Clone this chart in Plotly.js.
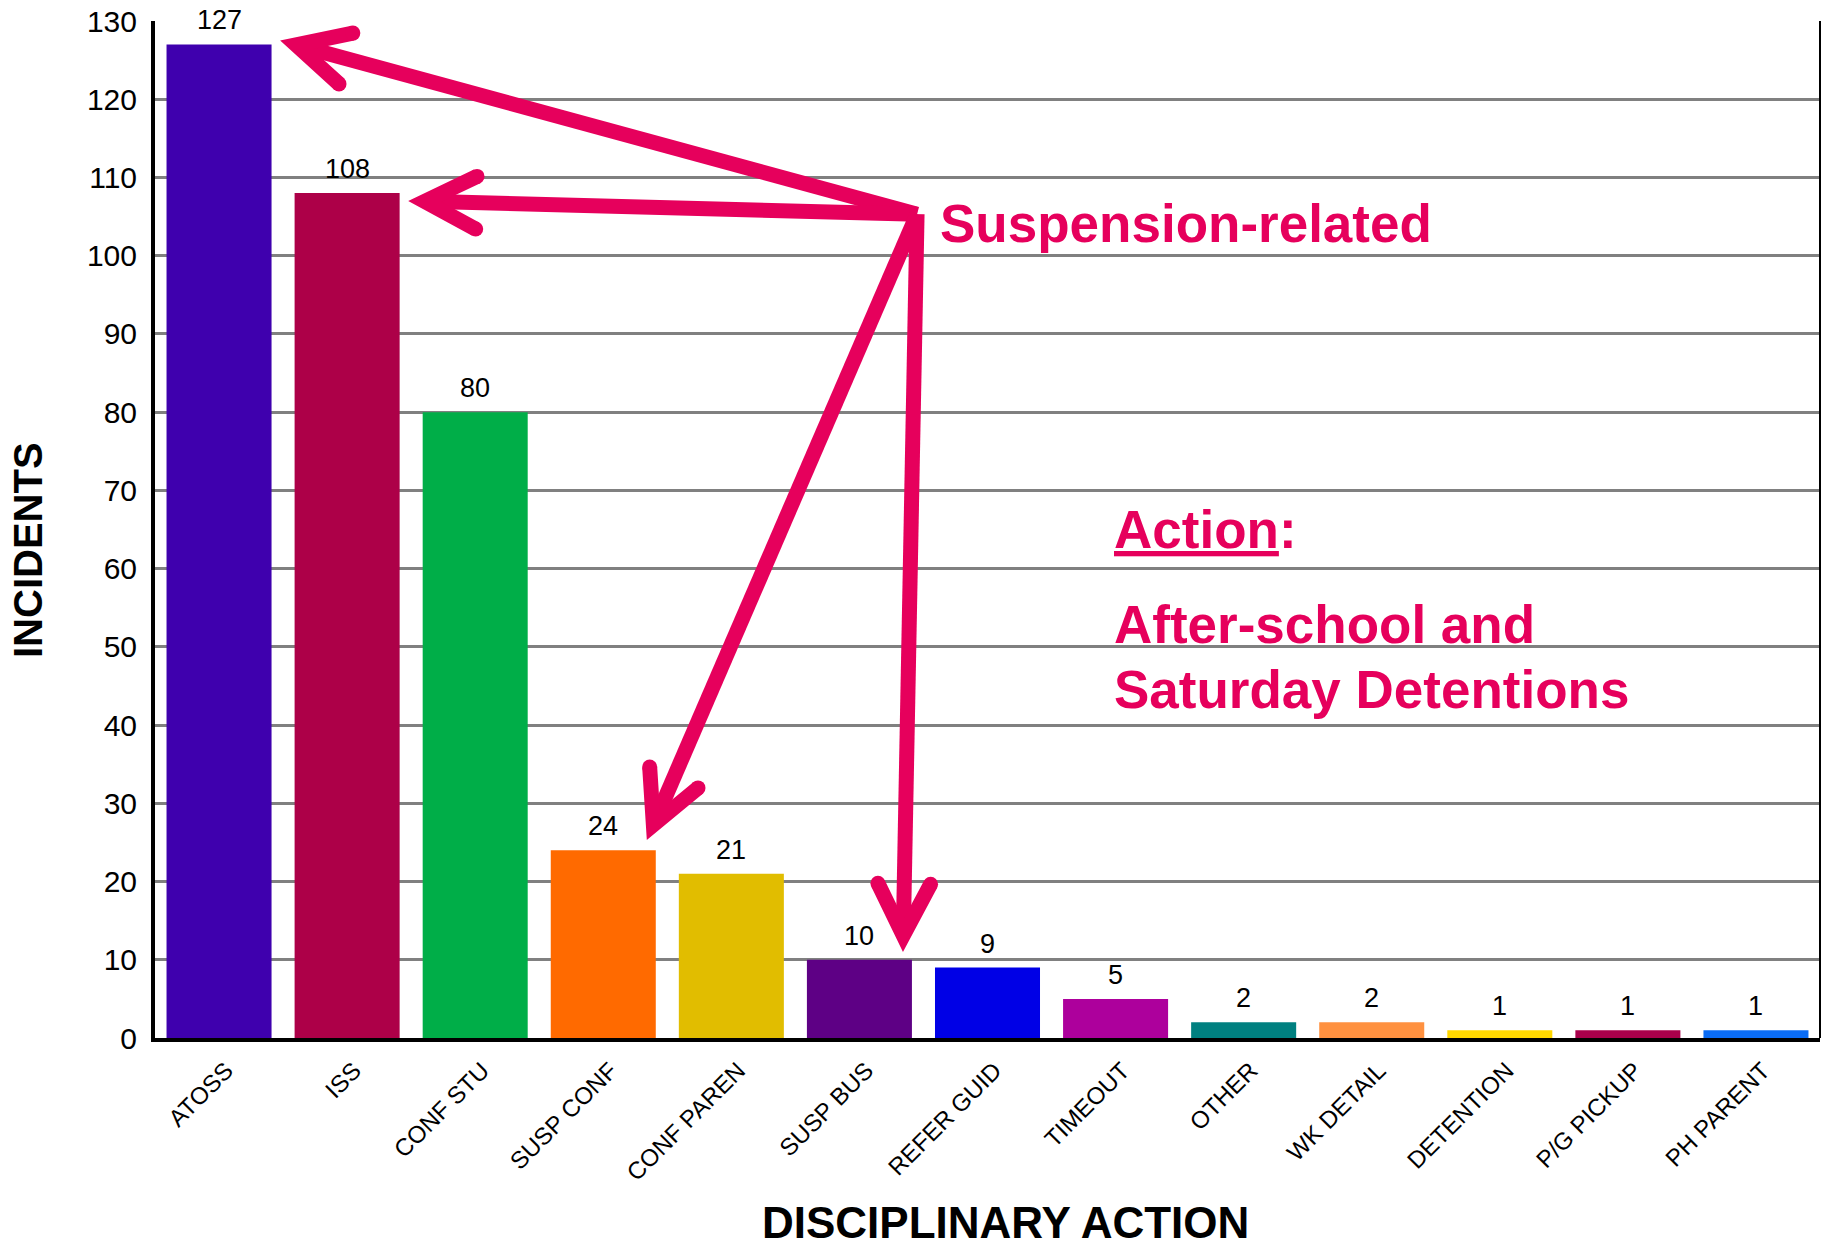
<!DOCTYPE html>
<html>
<head>
<meta charset="utf-8">
<script src="https://cdn.plot.ly/plotly-3.0.1.min.js"></script>
<style>
  html, body { margin: 0; padding: 0; background: #ffffff; }
  #chart { width: 1837px; height: 1250px; }
</style>
</head>
<body>
<div id="chart"></div>
<script>
// Disciplinary actions and the number of incidents for each
const categories = ['ATOSS', 'ISS', 'CONF STU', 'SUSP CONF', 'CONF PAREN', 'SUSP BUS',
  'REFER GUID', 'TIMEOUT', 'OTHER', 'WK DETAIL', 'DETENTION', 'P/G PICKUP', 'PH PARENT'];
const incidents = [127, 108, 80, 24, 21, 10, 9, 5, 2, 2, 1, 1, 1];
const barColors = ['#3F00AE', '#AD0048', '#00AE48', '#FF6A00', '#E1BD00', '#5E0085',
  '#0000E6', '#AD009C', '#008080', '#FF9140', '#FFD700', '#A8004B', '#0A6CF5'];
const yTicks = [0, 10, 20, 30, 40, 50, 60, 70, 80, 90, 100, 110, 120, 130];

// Suspension-related actions picked out by the callout arrows
const suspensionTargets = ['ATOSS', 'ISS', 'SUSP CONF', 'SUSP BUS'];

const FONT = 'Liberation Sans, Arial, Helvetica, sans-serif';
const PINK = '#E6005C';

// Figure geometry
const W = 1837, H = 1250;
const M = { l: 155, r: 17, t: 21, b: 212, pad: 0 };
const plotW = W - M.l - M.r, plotH = H - M.t - M.b;
const xRange = [-0.5, categories.length - 0.5];
const yRange = [0, 130];
const pxPerX = plotW / (xRange[1] - xRange[0]);
const pxPerY = plotH / (yRange[1] - yRange[0]);

// Callout arrow styling: stroke width, chevron half-angle and arm length (pixels)
const LW = 15, HALF = 27 * Math.PI / 180, ARM = 58;
const arrowOrigin = { x: 5.45, y: 105.3 };
// where each arrow's point sits relative to its bar (category offset, value offset)
const tipOffsets = {
  'ATOSS':     { dx: 0.477, dy: 0.5 },
  'ISS':       { dx: 0.477, dy: -1.0 },
  'SUSP CONF': { dx: 0.34,  dy: 1.3 },
  'SUSP BUS':  { dx: 0.34,  dy: 1.0 }
};

function add(a, b) { return { x: a.x + b.x, y: a.y + b.y }; }
function mul(a, k) { return { x: a.x * k, y: a.y * k }; }
function rot(v, a) {
  const c = Math.cos(a), s = Math.sin(a);
  return { x: v.x * c - v.y * s, y: v.x * s + v.y * c };
}
function toPx(p) { return { x: p.x * pxPerX, y: p.y * pxPerY }; }
function toData(p) { return { x: p.x / pxPerX, y: p.y / pxPerY }; }

const shaftX = [], shaftY = [], capX = [], capY = [];
const chevronTraces = [];

suspensionTargets.forEach(function (cat) {
  const i = categories.indexOf(cat);
  const off = tipOffsets[cat];
  // work in pixel space (y up) so the chevron keeps its shape
  const T = toPx({ x: i + off.dx, y: incidents[i] + off.dy });
  const O = toPx(arrowOrigin);
  let u = { x: O.x - T.x, y: O.y - T.y };
  const len = Math.hypot(u.x, u.y);
  u = mul(u, 1 / len);
  const back = (LW / 2) / Math.sin(HALF);
  const V = add(T, mul(u, back));          // centre-line vertex
  const N = add(T, mul(u, 2 * back));      // inner notch
  const pts = { outer: [], inner: [], end: [] };
  [1, -1].forEach(function (sgn) {
    const d = rot(u, sgn * HALF);
    const n = rot(d, sgn * Math.PI / 2);
    const E = add(V, mul(d, ARM));
    pts.end.push(E);
    pts.outer.push(add(E, mul(n, LW / 2)));
    pts.inner.push(add(E, mul(n, -LW / 2)));
  });
  const poly = [T, pts.outer[0], pts.inner[0], N, pts.inner[1], pts.outer[1], T].map(toData);
  chevronTraces.push({
    type: 'scatter', mode: 'lines', fill: 'toself', fillcolor: PINK,
    x: poly.map(function (p) { return p.x; }),
    y: poly.map(function (p) { return p.y; }),
    xaxis: 'x2', yaxis: 'y',
    line: { width: 0, color: PINK },
    hoverinfo: 'skip', showlegend: false, cliponaxis: false
  });
  pts.end.forEach(function (E) {
    const e = toData(E);
    capX.push(e.x); capY.push(e.y);
  });
  const v = toData(V);
  shaftX.push(arrowOrigin.x, v.x, null);
  shaftY.push(arrowOrigin.y, v.y, null);
});

const bars = {
  type: 'bar',
  x: categories,
  y: incidents,
  marker: { color: barColors, line: { width: 0 } },
  hoverinfo: 'skip',
  showlegend: false
};

const shafts = {
  type: 'scatter', mode: 'lines',
  x: shaftX, y: shaftY, xaxis: 'x2', yaxis: 'y',
  line: { color: PINK, width: LW, simplify: false },
  connectgaps: false, hoverinfo: 'skip', showlegend: false, cliponaxis: false
};

// rounded ends of the chevron arms
const caps = {
  type: 'scatter', mode: 'markers',
  x: capX, y: capY, xaxis: 'x2', yaxis: 'y',
  marker: { size: LW, color: PINK, line: { width: 0 } },
  hoverinfo: 'skip', showlegend: false, cliponaxis: false
};

function paperX(px) { return (px - M.l) / plotW; }
function paperY(py) { return (M.t + plotH - py) / plotH; }

const noteFont = { family: FONT, size: 53, color: PINK, weight: 'bold' };

// value labels above each bar
const valueLabels = categories.map(function (c, i) {
  return {
    x: c, y: incidents[i], xref: 'x', yref: 'y',
    text: String(incidents[i]), showarrow: false,
    xanchor: 'center', yanchor: 'bottom', yshift: 7,
    font: { family: FONT, size: 27, color: '#000000' }
  };
});

const layout = {
  width: W, height: H,
  margin: M,
  paper_bgcolor: '#ffffff',
  plot_bgcolor: '#ffffff',
  bargap: 0.18,
  font: { family: FONT, color: '#000000' },
  xaxis: {
    type: 'category',
    range: xRange,
    showline: true, linecolor: '#000000', linewidth: 4,
    showgrid: false, zeroline: false,
    ticks: '', tickangle: -45,
    ticklabelshift: 7, ticklabelstandoff: 5,
    tickfont: { family: FONT, size: 24, color: '#000000' },
    fixedrange: true
  },
  xaxis2: {
    overlaying: 'x', range: xRange, visible: false, fixedrange: true
  },
  yaxis: {
    range: yRange,
    tickvals: yTicks,
    showgrid: true, gridcolor: '#808080', gridwidth: 3,
    showline: true, linecolor: '#000000', linewidth: 4,
    zeroline: false, ticks: '',
    ticklabelstandoff: 8,
    tickfont: { family: FONT, size: 30, color: '#000000' },
    fixedrange: true
  },
  shapes: [
    { type: 'line', xref: 'paper', yref: 'paper', x0: 1, x1: 1, y0: 0, y1: 1,
      line: { color: '#000000', width: 2 } }
  ],
  annotations: valueLabels.concat([
    { text: '<b>INCIDENTS</b>', textangle: -90, showarrow: false,
      xref: 'paper', yref: 'paper', x: paperX(28), y: paperY(550),
      xanchor: 'center', yanchor: 'middle',
      font: { family: FONT, size: 40, color: '#000000' } },
    { text: '<b>DISCIPLINARY ACTION</b>', showarrow: false,
      xref: 'paper', yref: 'paper', x: paperX(1006), y: paperY(1222),
      xanchor: 'center', yanchor: 'middle', borderpad: 0,
      font: { family: FONT, size: 44, color: '#000000' } },
    { text: 'Suspension-related', showarrow: false,
      xref: 'paper', yref: 'paper', x: paperX(938), y: paperY(224),
      xanchor: 'left', yanchor: 'middle', font: noteFont },
    { text: '<u>Action</u>:', showarrow: false,
      xref: 'paper', yref: 'paper', x: paperX(1112), y: paperY(529),
      xanchor: 'left', yanchor: 'middle', font: noteFont },
    { text: 'After-school and', showarrow: false,
      xref: 'paper', yref: 'paper', x: paperX(1112), y: paperY(624),
      xanchor: 'left', yanchor: 'middle', font: noteFont },
    { text: 'Saturday Detentions', showarrow: false,
      xref: 'paper', yref: 'paper', x: paperX(1112), y: paperY(689),
      xanchor: 'left', yanchor: 'middle', font: noteFont }
  ])
};

Plotly.newPlot('chart', [bars, shafts].concat(chevronTraces, [caps]), layout, { staticPlot: true });
</script>
</body>
</html>
